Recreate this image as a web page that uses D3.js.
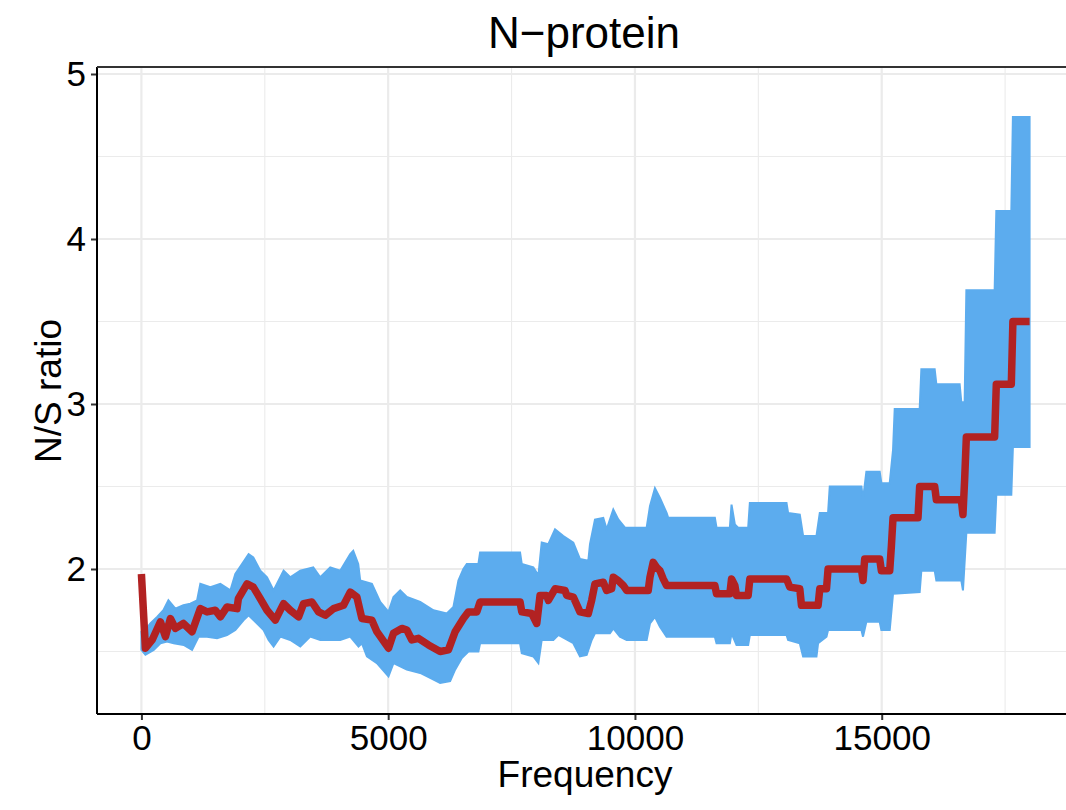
<!DOCTYPE html>
<html>
<head>
<meta charset="utf-8">
<script src="https://cdn.jsdelivr.net/npm/d3@7"></script>
<style>
  body { margin: 0; background: #fff; }
  svg { display: block; font-family: "Liberation Sans", Arial, sans-serif; }
</style>
</head>
<body>
<div id="main"></div>
<script>
// median N/S ratio (red step line)
const medianX = [0, 81, 217, 385, 486, 587, 688, 850, 1026, 1194, 1330, 1498, 1599, 1735, 1937, 1964, 2140, 2267, 2409, 2545, 2713, 2881, 3016, 3184, 3285, 3455, 3589, 3725, 3893, 4095, 4231, 4366, 4467, 4670, 4771, 5006, 5107, 5277, 5378, 5480, 5613, 5816, 6053, 6220, 6356, 6524, 6626, 6796, 6862, 7672, 7707, 7909, 8010, 8077, 8213, 8245, 8381, 8583, 8617, 8751, 8886, 9055, 9123, 9190, 9358, 9427, 9528, 9561, 9662, 9763, 9832, 10269, 10304, 10370, 10439, 10506, 10573, 10641, 11619, 11653, 11923, 11957, 12024, 12058, 12294, 12328, 13071, 13138, 13340, 13374, 13711, 13745, 13881, 13913, 14589, 14621, 14655, 14959, 14993, 15162, 15196, 15229, 15735, 15769, 16073, 16107, 16613, 16646, 16680, 16715, 17288, 17322, 17626, 17658, 17996];
const medianY = [1.97, 1.52, 1.57, 1.68, 1.59, 1.70, 1.64, 1.67, 1.62, 1.76, 1.74, 1.75, 1.71, 1.77, 1.76, 1.82, 1.91, 1.89, 1.82, 1.75, 1.69, 1.79, 1.75, 1.71, 1.79, 1.80, 1.74, 1.72, 1.76, 1.78, 1.86, 1.83, 1.70, 1.69, 1.62, 1.52, 1.61, 1.64, 1.63, 1.57, 1.58, 1.54, 1.50, 1.51, 1.62, 1.70, 1.74, 1.74, 1.80, 1.80, 1.74, 1.73, 1.67, 1.84, 1.84, 1.81, 1.88, 1.87, 1.84, 1.83, 1.74, 1.73, 1.81, 1.91, 1.92, 1.87, 1.88, 1.95, 1.93, 1.90, 1.87, 1.87, 1.95, 2.04, 2.01, 1.99, 1.94, 1.90, 1.90, 1.85, 1.85, 1.94, 1.90, 1.84, 1.84, 1.94, 1.94, 1.89, 1.88, 1.78, 1.78, 1.88, 1.88, 2.00, 2.00, 1.93, 2.06, 2.06, 1.99, 1.99, 2.14, 2.31, 2.31, 2.50, 2.50, 2.42, 2.42, 2.33, 2.54, 2.80, 2.80, 3.12, 3.12, 3.50, 3.50];

// upper edge of the blue band
const upperX = [0, 81, 182, 318, 445, 547, 688, 850, 992, 1128, 1194, 1397, 1599, 1802, 1903, 2038, 2172, 2267, 2409, 2545, 2678, 2881, 3016, 3219, 3482, 3624, 3826, 4028, 4231, 4292, 4393, 4433, 4670, 4838, 5006, 5107, 5243, 5378, 5648, 5917, 6188, 6322, 6423, 6524, 6593, 6828, 6862, 7672, 7707, 7941, 8043, 8111, 8245, 8381, 8549, 8751, 8886, 9055, 9089, 9190, 9358, 9427, 9561, 9662, 9798, 10237, 10304, 10405, 10506, 10641, 10674, 11619, 11653, 11923, 11957, 12024, 12091, 12294, 12328, 13071, 13103, 13340, 13407, 13678, 13745, 13913, 13947, 14589, 14621, 14689, 14959, 14993, 15162, 15229, 15263, 15769, 15803, 16073, 16107, 16579, 16613, 16680, 16715, 17288, 17322, 17626, 17658, 17996];
const upperY = [1.62, 1.63, 1.67, 1.71, 1.75, 1.81, 1.76, 1.78, 1.79, 1.81, 1.91, 1.89, 1.91, 1.87, 1.97, 2.03, 2.09, 2.07, 1.99, 1.95, 1.87, 1.99, 1.95, 1.99, 2.01, 1.95, 2.01, 1.99, 2.09, 2.11, 2.03, 1.93, 1.91, 1.80, 1.74, 1.83, 1.87, 1.83, 1.80, 1.75, 1.73, 1.77, 1.93, 2.00, 2.03, 2.03, 2.10, 2.10, 2.03, 2.01, 1.96, 2.16, 2.15, 2.24, 2.20, 2.16, 2.06, 2.05, 2.15, 2.30, 2.31, 2.24, 2.36, 2.30, 2.25, 2.25, 2.38, 2.49, 2.43, 2.34, 2.31, 2.31, 2.25, 2.25, 2.39, 2.27, 2.25, 2.25, 2.40, 2.40, 2.34, 2.33, 2.20, 2.20, 2.34, 2.34, 2.50, 2.50, 2.42, 2.59, 2.59, 2.52, 2.52, 2.72, 2.97, 2.97, 3.21, 3.21, 3.12, 3.12, 3.01, 3.01, 3.69, 3.69, 4.17, 4.17, 4.74, 4.74];

// lower edge of the blue band
const lowerX = [0, 81, 249, 385, 520, 654, 856, 1026, 1160, 1330, 1532, 1735, 1903, 2071, 2172, 2308, 2476, 2577, 2678, 2814, 3016, 3219, 3421, 3624, 4028, 4231, 4399, 4467, 4569, 4771, 5006, 5107, 5378, 5648, 5850, 6053, 6255, 6356, 6492, 6626, 6828, 6862, 7672, 7707, 7941, 8043, 8111, 8346, 8447, 8751, 8886, 9022, 9123, 9190, 9493, 9561, 9696, 9832, 10237, 10304, 10405, 10506, 10641, 11619, 11653, 11923, 11957, 12058, 12294, 12328, 13071, 13103, 13340, 13407, 13678, 13711, 13881, 13913, 14589, 14621, 14689, 14959, 14993, 15162, 15229, 15769, 15803, 16073, 16107, 16613, 16646, 16715, 17288, 17322, 17626, 17658, 17996];
const lowerY = [1.51, 1.48, 1.51, 1.55, 1.56, 1.55, 1.54, 1.51, 1.59, 1.59, 1.58, 1.60, 1.63, 1.69, 1.72, 1.68, 1.63, 1.57, 1.53, 1.59, 1.57, 1.53, 1.59, 1.57, 1.57, 1.59, 1.53, 1.55, 1.47, 1.43, 1.35, 1.43, 1.39, 1.37, 1.34, 1.31, 1.32, 1.39, 1.46, 1.50, 1.50, 1.55, 1.55, 1.49, 1.47, 1.43, 1.57, 1.57, 1.60, 1.55, 1.47, 1.48, 1.57, 1.61, 1.61, 1.64, 1.59, 1.57, 1.57, 1.67, 1.71, 1.65, 1.59, 1.59, 1.55, 1.55, 1.61, 1.54, 1.54, 1.60, 1.60, 1.57, 1.55, 1.47, 1.47, 1.55, 1.59, 1.63, 1.63, 1.59, 1.68, 1.68, 1.63, 1.63, 1.85, 1.86, 1.99, 1.99, 1.93, 1.93, 1.87, 2.22, 2.22, 2.45, 2.45, 2.74, 2.74];

const xMajor = [0, 5000, 10000, 15000];
const xMinor = [2500, 7500, 12500, 17500];
const yMajor = [2, 3, 4, 5];
const yMinor = [1.5, 2.5, 3.5, 4.5];

function main() {
  const width = 1066;
  const height = 810;
  const left = 97;
  const right = 1074;
  const top = 67;
  const bottom = 714;

  const xScale = d3.scaleLinear()
    .domain([-900, 18896])
    .range([left, right]);

  const yScale = d3.scaleLinear()
    .domain([1.1212, 5.0424])
    .range([bottom, top]);

  const svg = d3.select('#main')
    .append('svg')
    .attr('width', width)
    .attr('height', height);

  const grid = svg.append('g');

  grid.selectAll('.xminor')
    .data(xMinor)
    .enter()
    .append('line')
    .attr('x1', d => xScale(d))
    .attr('x2', d => xScale(d))
    .attr('y1', top)
    .attr('y2', bottom)
    .attr('stroke', '#ebebeb')
    .attr('stroke-width', 1.1);

  grid.selectAll('.yminor')
    .data(yMinor)
    .enter()
    .append('line')
    .attr('x1', left)
    .attr('x2', right)
    .attr('y1', d => yScale(d))
    .attr('y2', d => yScale(d))
    .attr('stroke', '#ebebeb')
    .attr('stroke-width', 1.1);

  grid.selectAll('.xmajor')
    .data(xMajor)
    .enter()
    .append('line')
    .attr('x1', d => xScale(d))
    .attr('x2', d => xScale(d))
    .attr('y1', top)
    .attr('y2', bottom)
    .attr('stroke', '#ebebeb')
    .attr('stroke-width', 2.2);

  grid.selectAll('.ymajor')
    .data(yMajor)
    .enter()
    .append('line')
    .attr('x1', left)
    .attr('x2', right)
    .attr('y1', d => yScale(d))
    .attr('y2', d => yScale(d))
    .attr('stroke', '#ebebeb')
    .attr('stroke-width', 2.2);

  // band: upper edge forward, lower edge back
  const upper = upperX.map((x, i) => [xScale(x), yScale(upperY[i])]);
  const lower = lowerX.map((x, i) => [xScale(x), yScale(lowerY[i])]).reverse();
  svg.append('path')
    .attr('d', d3.line()(upper.concat(lower)) + 'Z')
    .attr('fill', '#5cacee')
    .attr('stroke', '#5cacee')
    .attr('stroke-width', 2)
    .attr('stroke-linejoin', 'miter');

  const line = d3.line()
    .x(d => xScale(d[0]))
    .y(d => yScale(d[1]));

  svg.append('path')
    .datum(medianX.map((x, i) => [x, medianY[i]]))
    .attr('d', line)
    .attr('fill', 'none')
    .attr('stroke', '#b22222')
    .attr('stroke-width', 7.5)
    .attr('stroke-linejoin', 'round')
    .attr('stroke-linecap', 'butt');

  const xAxis = d3.axisBottom(xScale)
    .tickValues(xMajor)
    .tickFormat(d3.format('d'))
    .tickSize(6)
    .tickPadding(5);

  const yAxis = d3.axisLeft(yScale)
    .tickValues(yMajor)
    .tickFormat(d3.format('d'))
    .tickSize(6)
    .tickPadding(5);

  const gx = svg.append('g')
    .attr('transform', `translate(0, ${bottom})`)
    .call(xAxis);

  const gy = svg.append('g')
    .attr('transform', `translate(${left}, 0)`)
    .call(yAxis);

  [gx, gy].forEach((g) => {
    g.select('.domain').remove();
    g.selectAll('.tick line').attr('stroke', '#333').attr('stroke-width', 2);
    g.selectAll('.tick text')
      .attr('fill', '#000')
      .style('font-size', '35px')
      .style('font-family', '"Liberation Sans", Arial, sans-serif');
  });

  // axis lines and top border
  svg.append('line')
    .attr('x1', left).attr('x2', right)
    .attr('y1', bottom).attr('y2', bottom)
    .attr('stroke', '#000').attr('stroke-width', 2);
  svg.append('line')
    .attr('x1', left).attr('x2', left)
    .attr('y1', top).attr('y2', bottom)
    .attr('stroke', '#000').attr('stroke-width', 2);
  svg.append('line')
    .attr('x1', left).attr('x2', right)
    .attr('y1', top).attr('y2', top)
    .attr('stroke', '#333').attr('stroke-width', 2);

  svg.append('text')
    .attr('x', 584)
    .attr('y', 48)
    .style('font-size', '44px')
    .style('text-anchor', 'middle')
    .text('N\u2212protein');

  svg.append('text')
    .attr('x', 585)
    .attr('y', 787)
    .style('font-size', '37px')
    .style('text-anchor', 'middle')
    .text('Frequency');

  svg.append('text')
    .attr('transform', 'rotate(-90)')
    .attr('x', -391)
    .attr('y', 61)
    .style('font-size', '37px')
    .style('text-anchor', 'middle')
    .text('N/S ratio');
}

document.addEventListener('DOMContentLoaded', main);
</script>
</body>
</html>
